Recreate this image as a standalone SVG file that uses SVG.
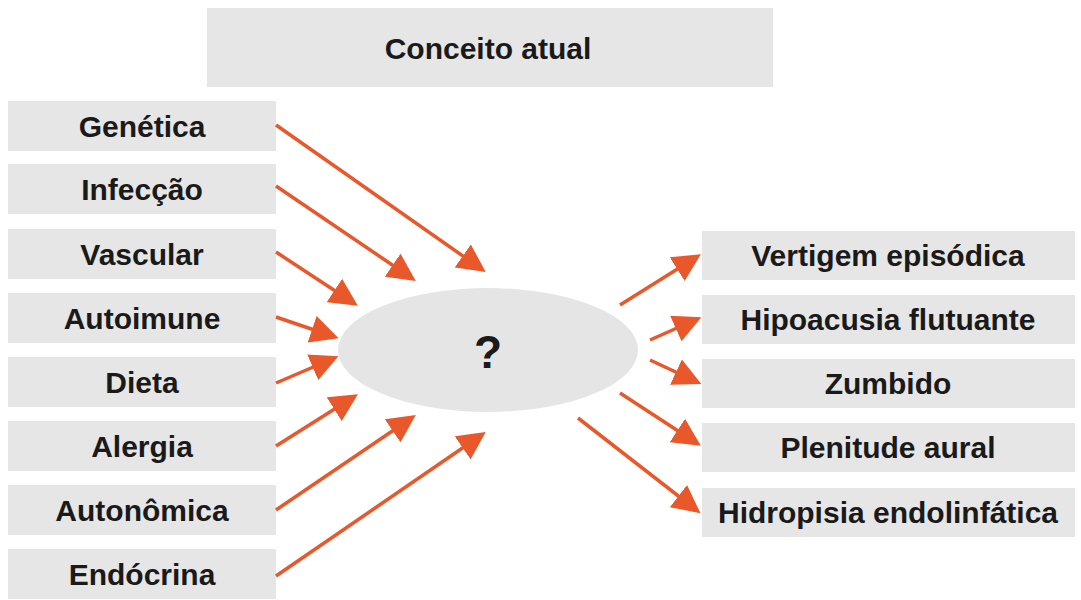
<svg xmlns="http://www.w3.org/2000/svg" width="1081" height="600" viewBox="0 0 1081 600">
<style>
.b{fill:#e6e6e6}
.t{font-family:"Liberation Sans",Arial,sans-serif;font-weight:bold;font-size:30px;fill:#1a1a1a;text-anchor:middle}
.c line{stroke:#e8582a;stroke-width:3.5;marker-end:url(#a)}
</style>
<defs><marker id="a" markerWidth="8" markerHeight="8" refX="6" refY="4" orient="auto" markerUnits="strokeWidth"><path d="M0,0 L8,4 L0,8 Z" fill="#e8582a"/></marker></defs>
<rect width="1081" height="600" fill="#fff"/>
<g id="top"><rect class="b" x="207" y="8" width="566" height="79"/><text class="t" x="488" y="59">Conceito atual</text></g>
<g id="center"><ellipse cx="488" cy="350" rx="150" ry="62" fill="#e5e5e5"/><text class="t" x="488" y="368" style="font-size:46px">?</text></g>
<g id="l1"><rect class="b" x="8" y="101" width="268" height="50"/><text class="t" x="142" y="137">Genética</text></g>
<g id="l2"><rect class="b" x="8" y="164" width="268" height="50"/><text class="t" x="142" y="200">Infecção</text></g>
<g id="l3"><rect class="b" x="8" y="229" width="268" height="50"/><text class="t" x="142" y="265">Vascular</text></g>
<g id="l4"><rect class="b" x="8" y="293" width="268" height="50"/><text class="t" x="142" y="329">Autoimune</text></g>
<g id="l5"><rect class="b" x="8" y="357" width="268" height="50"/><text class="t" x="142" y="393">Dieta</text></g>
<g id="l6"><rect class="b" x="8" y="421" width="268" height="50"/><text class="t" x="142" y="457">Alergia</text></g>
<g id="l7"><rect class="b" x="8" y="485" width="268" height="50"/><text class="t" x="142" y="521">Autonômica</text></g>
<g id="l8"><rect class="b" x="8" y="549" width="268" height="50"/><text class="t" x="142" y="585">Endócrina</text></g>
<g id="r1"><rect class="b" x="702" y="231" width="373" height="49"/><text class="t" x="888" y="266">Vertigem episódica</text></g>
<g id="r2"><rect class="b" x="702" y="295" width="373" height="49"/><text class="t" x="888" y="330">Hipoacusia flutuante</text></g>
<g id="r3"><rect class="b" x="702" y="359" width="373" height="49"/><text class="t" x="888" y="394">Zumbido</text></g>
<g id="r4"><rect class="b" x="702" y="423" width="373" height="49"/><text class="t" x="888" y="458">Plenitude aural</text></g>
<g id="r5"><rect class="b" x="702" y="488" width="373" height="49"/><text class="t" x="888" y="523">Hidropisia endolinfática</text></g>
<g class="c">
<line x1="276" y1="125" x2="480" y2="268"/>
<line x1="276" y1="186" x2="410" y2="277"/>
<line x1="276" y1="252" x2="352" y2="302"/>
<line x1="276" y1="317" x2="332" y2="336"/>
<line x1="276" y1="383" x2="332" y2="359"/>
<line x1="276" y1="446" x2="352" y2="398"/>
<line x1="276" y1="510" x2="410" y2="419"/>
<line x1="276" y1="576" x2="480" y2="436"/>
<line x1="620" y1="305" x2="695" y2="258"/>
<line x1="650" y1="340" x2="695" y2="320"/>
<line x1="650" y1="360" x2="695" y2="381"/>
<line x1="620" y1="393" x2="695" y2="442"/>
<line x1="578" y1="418" x2="695" y2="509"/>
</g>
</svg>
